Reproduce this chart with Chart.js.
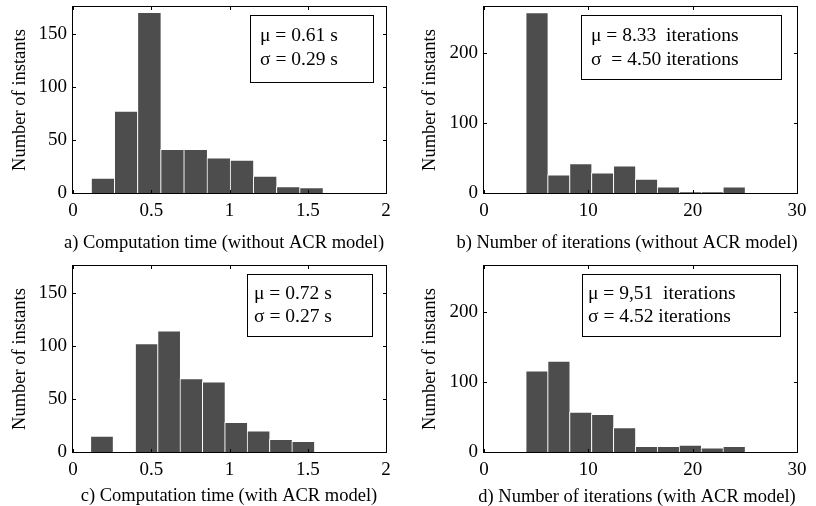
<!DOCTYPE html>
<html lang="en">
<head>
<meta charset="UTF-8">
<title>Computation time and iterations histograms</title>
<script src="https://cdn.jsdelivr.net/npm/chart.js"></script>
<style>
    body { margin: 0; background: #fff; }
    #wrap { position: relative; width: 816px; height: 506px; }
    .panel { position: absolute; width: 408px; height: 253px; }
</style>
</head>
<body>
<div id="wrap">
    <div class="panel" style="left:0;top:0"><canvas id="chartA" width="408" height="253"></canvas></div>
    <div class="panel" style="left:408px;top:0"><canvas id="chartB" width="408" height="253"></canvas></div>
    <div class="panel" style="left:0;top:253px"><canvas id="chartC" width="408" height="253"></canvas></div>
    <div class="panel" style="left:408px;top:253px"><canvas id="chartD" width="408" height="253"></canvas></div>
</div>

<script>
// histogram bin centres and counts
const timeBinsNoAcr = [0.190, 0.338, 0.486, 0.634, 0.782, 0.930, 1.078, 1.226, 1.374, 1.522];
const timeCountsNoAcr = [14, 77, 170, 41, 41, 33, 31, 16, 6, 5];

const iterBinsNoAcr = [5.05, 7.15, 9.25, 11.35, 13.45, 15.55, 17.65, 19.75, 21.85, 23.95];
const iterCountsNoAcr = [258, 26, 42, 29, 39, 20, 9, 1, 1, 9];

const timeBinsAcr = [0.183, 0.326, 0.469, 0.612, 0.755, 0.898, 1.041, 1.184, 1.327, 1.470];
const timeCountsAcr = [15, 0, 102, 114, 69, 66, 28, 20, 12, 10];

const iterBinsAcr = [5.05, 7.15, 9.25, 11.35, 13.45, 15.55, 17.65, 19.75, 21.85, 23.95];
const iterCountsAcr = [116, 130, 57, 54, 35, 8, 8, 10, 6, 8];

// axis ticks
const timeTicks = [0, 0.5, 1, 1.5, 2];
const iterTicks = [0, 10, 20, 30];
const timeCountTicks = [0, 50, 100, 150];
const iterCountTicks = [0, 100, 200];

// text
const yLabel = 'Number of instants';
const captionA = 'a) Computation time (without ACR model)';
const captionB = 'b) Number of iterations (without ACR model)';
const captionC = 'c) Computation time (with ACR model)';
const captionD = 'd) Number of iterations (with ACR model)';
const statsA = ['\u03bc = 0.61 s', '\u03c3 = 0.29 s'];
const statsB = ['\u03bc = 8.33  iterations', '\u03c3  = 4.50 iterations'];
const statsC = ['\u03bc = 0.72 s', '\u03c3 = 0.27 s'];
const statsD = ['\u03bc = 9,51  iterations', '\u03c3 = 4.52 iterations'];

const FONT = '"Liberation Serif", "Times New Roman", serif';
Chart.defaults.font.family = FONT;
Chart.defaults.font.size = 19;
Chart.defaults.color = '#000';

// matlab-like frame, inward ticks, stats box and caption
const framePlugin = {
    id: 'frame',
    afterDraw(chart, args, o) {
        const { ctx, chartArea: a, scales: { x, y } } = chart;
        ctx.save();
        ctx.strokeStyle = '#000';
        ctx.lineWidth = 1;
        ctx.beginPath();
        x.ticks.forEach(t => {
            const px = Math.round(x.getPixelForValue(t.value)) + 0.5;
            ctx.moveTo(px, a.bottom); ctx.lineTo(px, a.bottom - 3);
            ctx.moveTo(px, a.top); ctx.lineTo(px, a.top + 3);
        });
        y.ticks.forEach(t => {
            const py = Math.round(y.getPixelForValue(t.value)) + 0.5;
            ctx.moveTo(a.left, py); ctx.lineTo(a.left + 3, py);
            ctx.moveTo(a.right, py); ctx.lineTo(a.right - 3, py);
        });
        ctx.stroke();
        ctx.strokeRect(a.left - 0.5, a.top - 0.5, a.right - a.left + 1, a.bottom - a.top + 1);

        // stats box
        const b = o.box;
        ctx.fillStyle = '#fff';
        ctx.fillRect(b.x, b.y, b.w, b.h);
        ctx.strokeRect(b.x + 0.5, b.y + 0.5, b.w, b.h);
        ctx.fillStyle = '#000';
        ctx.font = '19.5px ' + FONT;
        ctx.textAlign = 'left';
        ctx.textBaseline = 'alphabetic';
        o.stats.forEach((s, i) => ctx.fillText(s, b.tx, b.ty[i]));

        // caption under the axis
        ctx.font = '18.5px ' + FONT;
        ctx.textAlign = 'center';
        ctx.fillText(o.caption, o.capX, o.capY);
        ctx.restore();
    }
};

function makeHistogram(id, bins, counts, xMax, xTicks, yMax, yTicks, lay, frame) {
    const canvas = document.getElementById(id);
    new Chart(canvas.getContext('2d'), {
        type: 'bar',
        data: {
            datasets: [{
                data: bins.map((b, i) => ({ x: b, y: counts[i] })),
                backgroundColor: '#4d4d4d',
                borderColor: '#fff',
                borderWidth: { left: 1, top: 1, right: 0, bottom: 0 },
                barPercentage: 1,
                categoryPercentage: 1
            }]
        },
        options: {
            responsive: false,
            animation: false,
            devicePixelRatio: 1,
            layout: { padding: { left: 0, right: 408 - lay.right, top: lay.top, bottom: 0 } },
            plugins: {
                legend: { display: false },
                tooltip: { enabled: false },
                frame: frame
            },
            scales: {
                x: {
                    type: 'linear',
                    min: 0,
                    max: xMax,
                    offset: false,
                    grid: { display: false, drawTicks: false },
                    border: { display: false },
                    ticks: { padding: lay.xPad, maxRotation: 0, callback: v => String(v) },
                    afterBuildTicks: s => { s.ticks = xTicks.map(v => ({ value: v })); },
                    afterFit: s => {
                        s.height = 253 - lay.bottom;
                        s.paddingLeft = 0; s.paddingRight = 0;
                    }
                },
                y: {
                    min: 0,
                    max: yMax,
                    grid: { display: false, drawTicks: false },
                    border: { display: false },
                    ticks: { padding: 6, callback: v => String(v) },
                    title: {
                        display: true,
                        text: yLabel,
                        font: { size: 18.5 },
                        padding: { top: lay.titlePad, bottom: 0 }
                    },
                    afterBuildTicks: s => { s.ticks = yTicks.map(v => ({ value: v })); },
                    afterFit: s => {
                        s.width = lay.left;
                        s.paddingTop = 0; s.paddingBottom = 0;
                    }
                }
            }
        },
        plugins: [framePlugin]
    });
}

makeHistogram('chartA', timeBinsNoAcr, timeCountsNoAcr, 2, timeTicks, 175, timeCountTicks,
    { left: 73, right: 386, top: 7, bottom: 193, xPad: 7, titlePad: 9 },
    { stats: statsA, caption: captionA, capX: 224, capY: 248,
      box: { x: 250, y: 15, w: 123, h: 67, tx: 260, ty: [41, 65] } });

makeHistogram('chartB', iterBinsNoAcr, iterCountsNoAcr, 30, iterTicks, 266, iterCountTicks,
    { left: 76, right: 389, top: 7, bottom: 193, xPad: 7, titlePad: 11 },
    { stats: statsB, caption: captionB, capX: 219, capY: 248,
      box: { x: 173, y: 15, w: 200, h: 64, tx: 183, ty: [41, 65] } });

makeHistogram('chartC', timeBinsAcr, timeCountsAcr, 2, timeTicks, 175, timeCountTicks,
    { left: 73, right: 386, top: 13, bottom: 199, xPad: 7, titlePad: 9 },
    { stats: statsC, caption: captionC, capX: 229, capY: 248,
      box: { x: 247, y: 21, w: 125, h: 62, tx: 254, ty: [46, 69] } });

makeHistogram('chartD', iterBinsAcr, iterCountsAcr, 30, iterTicks, 266, iterCountTicks,
    { left: 76, right: 389, top: 13, bottom: 199, xPad: 7, titlePad: 11 },
    { stats: statsD, caption: captionD, capX: 229, capY: 249,
      box: { x: 174, y: 21, w: 198, h: 62, tx: 180, ty: [46, 69] } });
</script>
</body>
</html>
